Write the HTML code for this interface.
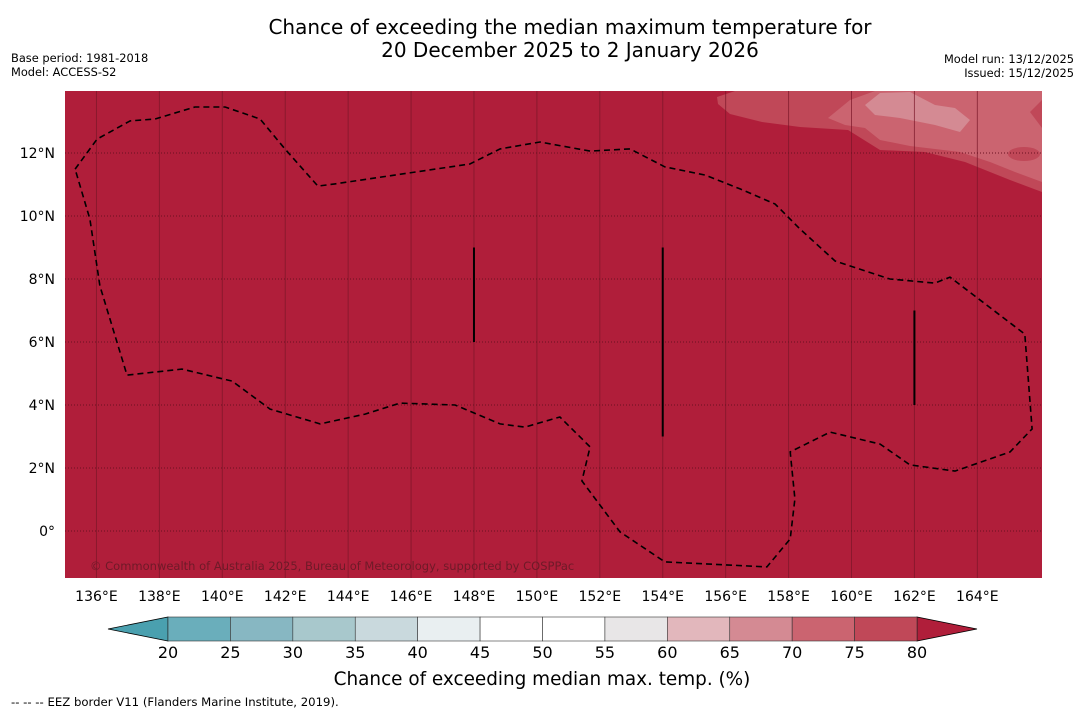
<!DOCTYPE html>
<html><head><meta charset="utf-8"><style>
html,body{margin:0;padding:0;background:#fff;}
body{width:1085px;height:713px;overflow:hidden;font-family:"DejaVu Sans","Liberation Sans",sans-serif;}
</style></head><body>
<svg id="chart" width="1085" height="713" viewBox="0 0 1085 713" xmlns="http://www.w3.org/2000/svg" font-family="DejaVu Sans, Liberation Sans, sans-serif">
<text x="570" y="34" text-anchor="middle" font-size="20">Chance of exceeding the median maximum temperature for</text>
<text x="570" y="57" text-anchor="middle" font-size="20">20 December 2025 to 2 January 2026</text>
<text x="11" y="62" font-size="11.4">Base period: 1981-2018</text>
<text x="11" y="76" font-size="11.4">Model: ACCESS-S2</text>
<text x="1074" y="63" font-size="11.4" text-anchor="end">Model run: 13/12/2025</text>
<text x="1074" y="77" font-size="11.4" text-anchor="end">Issued: 15/12/2025</text>
<defs><clipPath id="mapclip"><rect x="65" y="91" width="977" height="487"/></clipPath></defs>
<g id="map" clip-path="url(#mapclip)">
<rect x="65" y="91" width="977" height="487" fill="#b01e3a"/>
<path d="M717,97 L735,91 L1042,91 L1042,192 L1010,180 L965,162 L925,152 L880,150 L848,130 L800,127 L762,122 L730,114 L718,104Z" fill="#c04858"/>
<path d="M828,118 L850,100 L875,91 L1042,91 L1042,182 L1015,172 L990,162 L960,152 L910,146 L880,140 L865,128 L845,125Z" fill="#cb6470"/>
<path d="M1042,100 L1030,112 L1042,128Z" fill="#c04858"/>
<path d="M865,105 L880,93 L910,92 L935,105 L955,108 L970,120 L960,132 L935,125 L900,118 L875,115Z" fill="#d48a93"/>
<ellipse cx="1024" cy="154" rx="16" ry="7" fill="#c04858"/>
<g id="grid"></g>
<path id="eez" fill="none" stroke="#000" stroke-width="1.6" stroke-dasharray="6,4"/>
<g id="vlines"></g>
<text x="90" y="570" font-size="11.5" fill="#6e1a28">© Commonwealth of Australia 2025, Bureau of Meteorology, supported by COSPPac</text>
</g>
<g id="axes"></g>
<g id="colorbar"></g>
<text x="542" y="685" text-anchor="middle" font-size="18.4">Chance of exceeding median max. temp. (%)</text>
<text x="11" y="706" font-size="11.7">--  --  -- EEZ border V11 (Flanders Marine Institute, 2019).</text>
</svg>
<script>
const lonTicks=[136,138,140,142,144,146,148,150,152,154,156,158,160,162,164];
const latTicks=[0,2,4,6,8,10,12];
const eezLon=[135.32,136.02,137.07,137.86,139.13,140.09,141.2,141.99,143.04,143.58,147.87,148.83,150.1,151.69,152.96,154.07,155.34,156.46,157.57,158.36,159.48,161.22,162.65,163.13,165.51,165.74,165.04,163.29,161.86,160.91,159.32,158.05,158.2,158.05,157.31,154.07,152.64,151.43,151.69,150.73,149.62,148.83,147.4,145.65,144.54,143.11,141.52,140.31,138.72,136.97,136.11,135.79,135.32];
const eezLat=[11.49,12.44,13.02,13.08,13.46,13.46,13.08,12.13,10.95,11.02,11.65,12.13,12.35,12.06,12.13,11.56,11.3,10.86,10.38,9.59,8.57,8.0,7.87,8.06,6.25,3.24,2.51,1.9,2.1,2.76,3.14,2.51,1.02,-0.25,-1.14,-0.98,-0.03,1.59,2.67,3.62,3.3,3.4,4.0,4.06,3.71,3.4,3.87,4.76,5.14,4.95,7.78,9.9,11.49];
const segLon=[148,154,162];
const segLat0=[6,3,4];
const segLat1=[9,9,7];
const cbValues=[20,25,30,35,40,45,50,55,60,65,70,75,80];
const cbColors=['#6aaebb','#87b7c2','#a8c8cc','#c9d9dd','#e9eff1','#ffffff','#ffffff','#e8e6e7','#e2b7bc','#d48a93','#cb6470','#c04858'];
const cbUnder='#4aa0af', cbOver='#b01e3a';
const NS='http://www.w3.org/2000/svg';
const X=lon=>65+(lon-135)*31.46;
const Y=lat=>531-lat*31.5;
function mk(tag,attrs,parent,txt){const e=document.createElementNS(NS,tag);for(const k in attrs)e.setAttribute(k,attrs[k]);if(txt!==undefined)e.textContent=txt;parent.appendChild(e);return e;}
const grid=document.getElementById('grid'),axes=document.getElementById('axes');
lonTicks.forEach(l=>{
 const g=mk('line',{x1:X(l),x2:X(l),y1:91,y2:578,stroke:'#7a1628','stroke-width':1,opacity:0.7},grid);
 
 
 const t=mk('text',{x:X(l),y:601,'text-anchor':'middle','font-size':14},axes,l+'°E');
 
 
});
latTicks.forEach(l=>{
 const g=mk('line',{x1:65,x2:1042,y1:Y(l),y2:Y(l),stroke:'#6a1020','stroke-width':1,'stroke-dasharray':'1,2'},grid);
 
 
 const t=mk('text',{x:55,y:Y(l)+5,'text-anchor':'end','font-size':14},axes,l===0?'0°':l+'°N');
 
 
});
document.getElementById('eez').setAttribute('d',eezLon.map((l,i)=>(i?'L':'M')+X(l).toFixed(1)+','+Y(eezLat[i]).toFixed(1)).join(' '));
const vl=document.getElementById('vlines');
segLon.forEach((l,i)=>{
 const s=mk('line',{x1:X(l),x2:X(l),y1:Y(segLat1[i]),y2:Y(segLat0[i]),stroke:'#000','stroke-width':2},vl);
 
 
});
const cb=document.getElementById('colorbar');
const cx0=168,cx1=917,cy0=617,cy1=641,w=(cx1-cx0)/cbColors.length;
const u=mk('polygon',{points:`${cx0},${cy0} ${cx0},${cy1} 108,629`,fill:cbUnder,stroke:'#000','stroke-width':0.8},cb);


const o=mk('polygon',{points:`${cx1},${cy0} ${cx1},${cy1} 977,629`,fill:cbOver,stroke:'#000','stroke-width':0.8},cb);


cbColors.forEach((c,i)=>{
 const r=mk('rect',{x:cx0+i*w,y:cy0,width:w,height:cy1-cy0,fill:c,stroke:'#333','stroke-width':0.6},cb);
 
 
});
cbValues.forEach((v,i)=>{
 const t=mk('text',{x:cx0+i*w,y:658,'text-anchor':'middle','font-size':16},cb,v);
 
 
});
</script>
</body></html>
